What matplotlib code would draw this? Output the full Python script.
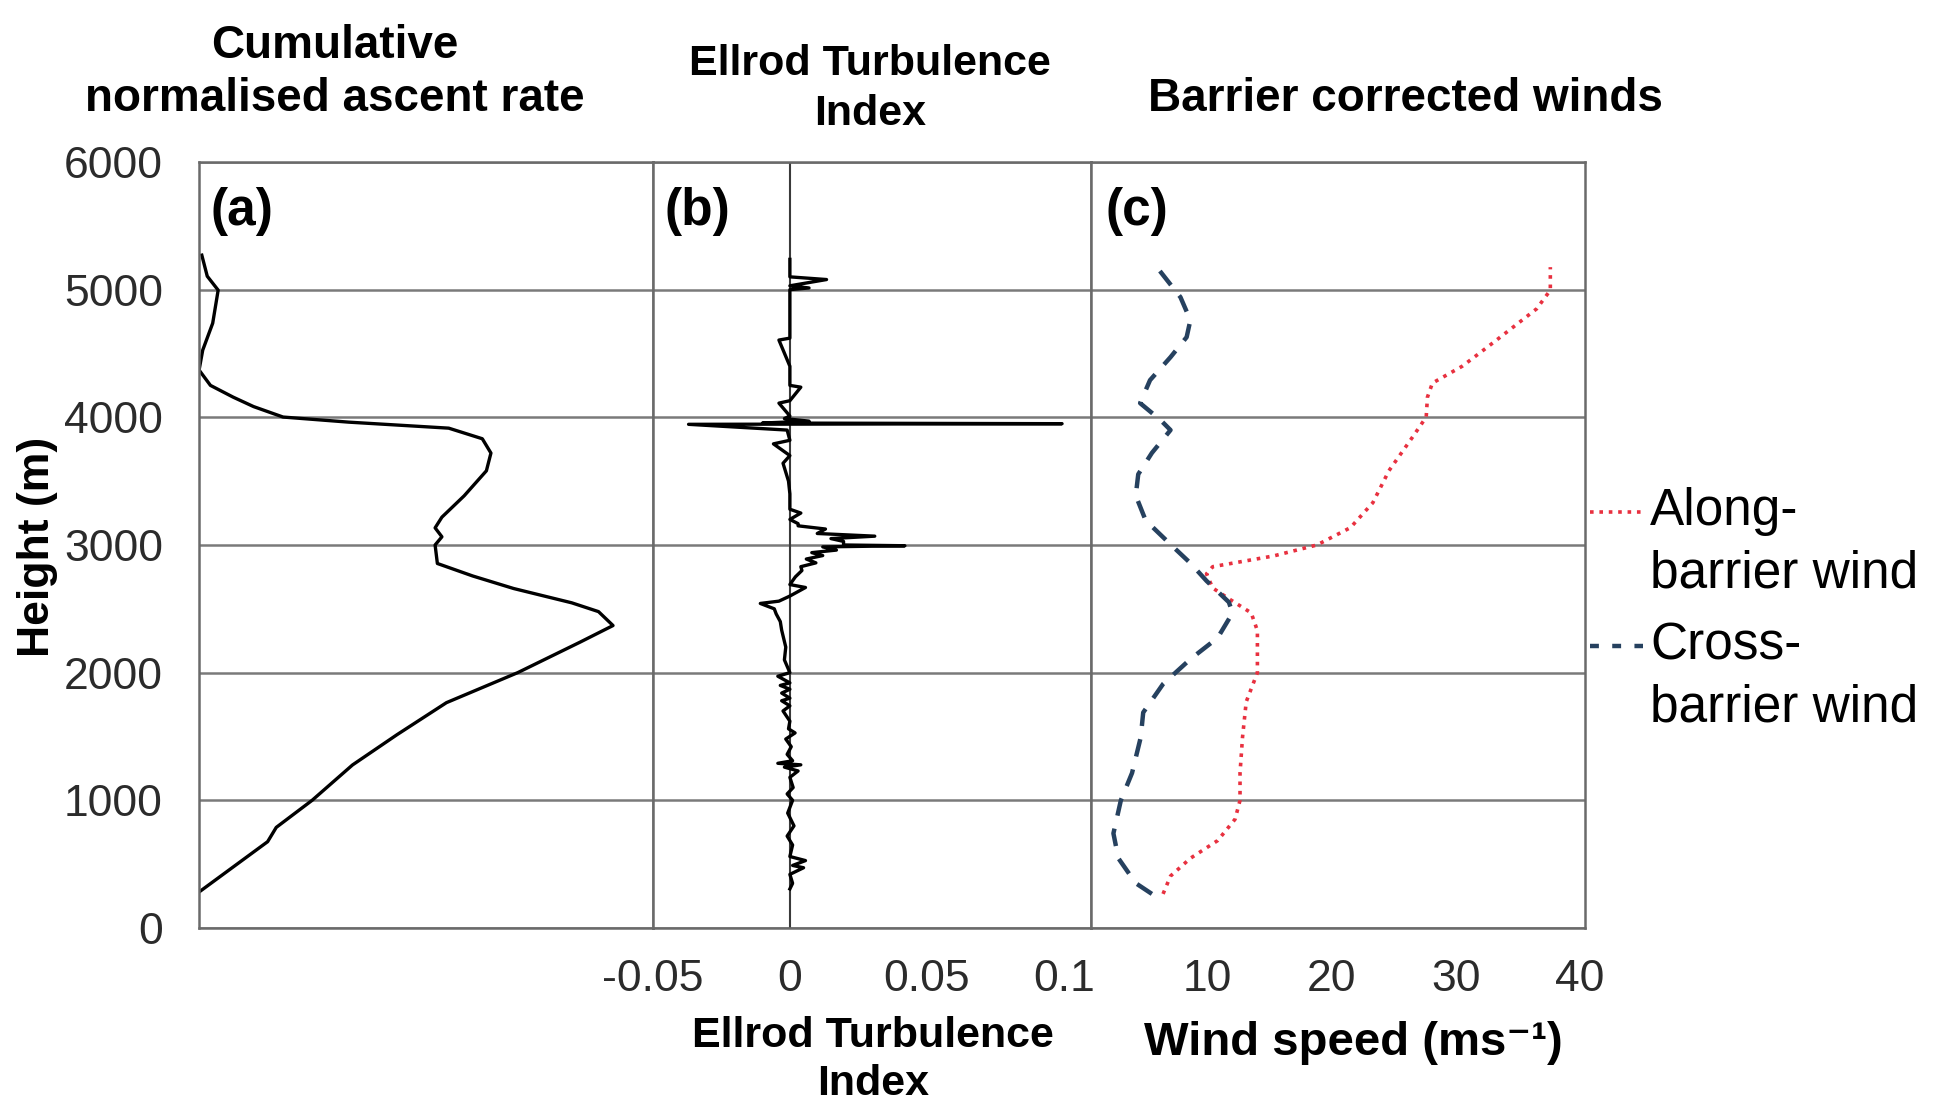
import matplotlib
matplotlib.use('Agg')
import matplotlib.pyplot as plt
from matplotlib.lines import Line2D

plt.rcParams['font.family'] = ['Liberation Sans', 'DejaVu Sans']

# (a) cumulative normalised ascent rate (fraction of panel width) vs height (m)
ascent_height = [282, 676, 788, 1000, 1277, 1514, 1765, 2000, 2240, 2369, 2478, 2547,
                 2659, 2757, 2855, 3000, 3064, 3134, 3218, 3385, 3581, 3720, 3832,
                 3915, 3962, 4002, 4084, 4158, 4250, 4370, 4526, 4737, 4996, 5105, 5270]
ascent_value = [0.0, 0.151, 0.170, 0.249, 0.338, 0.436, 0.545, 0.702, 0.840, 0.912, 0.880, 0.821,
                0.693, 0.603, 0.525, 0.520, 0.535, 0.520, 0.535, 0.584, 0.633, 0.643, 0.624,
                0.550, 0.330, 0.185, 0.120, 0.075, 0.025, 0.0, 0.008, 0.030, 0.042, 0.018, 0.006]

# (b) Ellrod turbulence index vs height (m)
ellrod_height = [306, 350, 420, 472, 490, 528, 560, 650, 720, 800, 900, 1000, 1050, 1100,
                 1180, 1230, 1260, 1278, 1290, 1310, 1360, 1420, 1480, 1528, 1560, 1620,
                 1700, 1740, 1780, 1800, 1840, 1870, 1900, 1920, 1972, 2000, 2100, 2200,
                 2333, 2400, 2460, 2500, 2542, 2560, 2600, 2667, 2690, 2750, 2800, 2830,
                 2860, 2890, 2917, 2940, 2960, 2985, 2994, 3000, 3028, 3050, 3069, 3090,
                 3125, 3150, 3167, 3200, 3250, 3280, 3400, 3500, 3640, 3700, 3792, 3820,
                 3900, 3945, 3950, 3955, 3970, 3990, 4010, 4111, 4130, 4236, 4250, 4400,
                 4605, 4620, 4800, 5000, 5013, 5030, 5079, 5100, 5237]
ellrod_value = [0.0, 0.001, 0.0, 0.005, 0.001, 0.0057, 0.0, 0.001, -0.001, 0.0015, -0.0008,
                0.001, -0.001, 0.0012, 0.0, 0.003, -0.002, 0.004, -0.0044, 0.001, -0.001,
                0.0005, -0.0015, 0.0019, -0.0005, 0.0, -0.0025, 0.0, -0.003, 0.0, -0.003,
                0.0, -0.0035, 0.0, -0.0044, 0.0, -0.002, -0.0015, -0.003, -0.0035, -0.005,
                -0.0057, -0.0108, -0.004, 0.0, 0.0057, 0.0, 0.002, 0.0044, 0.004, 0.0095,
                0.006, 0.012, 0.008, 0.017, 0.012, 0.042, 0.0196, 0.0196, 0.015, 0.031,
                0.01, 0.013, 0.003, 0.003, 0.0, 0.004, 0.0, 0.0, -0.0005, -0.0025, 0.0,
                -0.006, 0.0, -0.001, -0.037, 0.0994, -0.01, 0.007, -0.002, 0.0, -0.004,
                0.0, 0.004, 0.0, 0.0, -0.004, 0.0, 0.0, 0.0, 0.007, 0.0, 0.0134, 0.0, 0.0]

# (c) barrier corrected winds (m/s) vs height (m)
along_height = [267, 407, 546, 685, 852, 1000, 1214, 1493, 1772, 2000, 2329, 2468, 2579,
                2663, 2774, 2830, 2914, 3000, 3136, 3331, 3582, 3845, 4002, 4158, 4268,
                4400, 4503, 4600, 4706, 4850, 4996, 5176]
along_speed = [6.4, 7.0, 8.6, 10.8, 12.2, 12.6, 12.6, 12.8, 13.1, 14.0, 14.0, 13.5, 11.7,
               10.4, 9.9, 10.4, 15.3, 18.8, 21.5, 23.3, 24.6, 26.5, 27.6, 27.7, 28.1,
               30.5, 31.9, 33.2, 34.6, 36.5, 37.6, 37.6]
cross_height = [267, 351, 546, 741, 1000, 1214, 1493, 1688, 1911, 2106, 2273, 2468, 2552,
                2719, 2858, 3000, 3192, 3387, 3554, 3721, 3900, 3978, 4111, 4291, 4471,
                4628, 4761, 4941, 5176]
cross_speed = [5.5, 4.2, 2.8, 2.4, 3.0, 3.9, 4.6, 4.8, 6.4, 8.6, 10.8, 12.0, 11.7, 9.9,
               8.6, 7.05, 5.0, 4.2, 4.4, 5.5, 7.0, 6.2, 4.55, 5.35, 7.0, 8.3, 8.6, 7.8, 5.9]

height_ticks = [0, 1000, 2000, 3000, 4000, 5000, 6000]
ellrod_ticks = [-0.05, 0, 0.05, 0.1]
ellrod_tick_labels = ['-0.05', '0', '0.05', '0.1']
wind_ticks = [10, 20, 30, 40]

fig = plt.figure(figsize=(19.48, 11.07), dpi=100)
fig.set_facecolor('white')

bottom, height = 0.1617, 0.692
ax_a = fig.add_axes([0.1022, bottom, 0.3352 - 0.1022, height])
ax_b = fig.add_axes([0.3352, bottom, 0.5601 - 0.3352, height])
ax_c = fig.add_axes([0.5601, bottom, 0.8137 - 0.5601, height])

grid_col = '#7a7a7a'
tick_col = '#2b2b2b'

for ax in (ax_a, ax_b, ax_c):
    ax.set_ylim(0, 6000)
    ax.set_yticks(height_ticks)
    ax.grid(axis='y', color=grid_col, lw=1.8)
    ax.grid(axis='x', visible=False)
    ax.set_axisbelow(True)
    for sp in ax.spines.values():
        sp.set_color('#6a6a6a')
        sp.set_linewidth(1.8)
    ax.tick_params(length=0, labelsize=32, labelcolor=tick_col)

# (a)
ax_a.plot(ascent_value, ascent_height, color='black', lw=2.4)
ax_a.set_xlim(0, 1)
ax_a.set_xticks([])
ax_a.tick_params(axis='y', pad=26)
ax_a.text(0.025, 0.935, '(a)', transform=ax_a.transAxes, fontsize=37,
          fontweight='bold', va='center', ha='left')

# (b)
ax_b.axvline(0, color='#3a3a3a', lw=1.5, zorder=1)
ax_b.plot(ellrod_value, ellrod_height, color='black', lw=2.4)
ax_b.set_xlim(-0.05, 0.11)
ax_b.set_xticks(ellrod_ticks)
ax_b.set_xticklabels(ellrod_tick_labels)
ax_b.tick_params(axis='y', labelleft=False)
ax_b.tick_params(axis='x', pad=22)
ax_b.text(0.027, 0.935, '(b)', transform=ax_b.transAxes, fontsize=37,
          fontweight='bold', va='center', ha='left')

# (c)
ax_c.plot(along_speed, along_height, color='#e8303f', lw=2.6, ls=(0, (1, 1.6)))
ax_c.plot(cross_speed, cross_height, color='#26415f', lw=3.2, ls=(0, (4, 3)))
ax_c.set_xlim(0.6, 40.4)
ax_c.set_xticks(wind_ticks)
ax_c.tick_params(axis='y', labelleft=False)
ax_c.tick_params(axis='x', pad=22)
ax_c.text(0.03, 0.935, '(c)', transform=ax_c.transAxes, fontsize=37,
          fontweight='bold', va='center', ha='left')

# titles and axis labels
fig.text(0.172, 0.9345, 'Cumulative\nnormalised ascent rate', ha='center', va='center',
         fontsize=33, fontweight='bold', linespacing=1.25)
fig.text(0.4465, 0.9196, 'Ellrod Turbulence\nIndex', ha='center', va='center',
         fontsize=31, fontweight='bold', linespacing=1.33)
fig.text(0.7213, 0.9105, 'Barrier corrected winds', ha='center', va='center',
         fontsize=33, fontweight='bold')
fig.text(0.448, 0.0425, 'Ellrod Turbulence\nIndex', ha='center', va='center',
         fontsize=31, fontweight='bold', linespacing=1.25)
fig.text(0.695, 0.0574, 'Wind speed (ms\u207b\u00b9)', ha='center', va='center',
         fontsize=34, fontweight='bold')
fig.text(0.019, 0.506, 'Height (m)', ha='center', va='center', rotation=90,
         fontsize=32, fontweight='bold')

# legend drawn beside panel (c)
fig.add_artist(Line2D([0.8162, 0.8434], [0.5375, 0.5375], transform=fig.transFigure,
                      color='#e8303f', lw=2.6, ls=(0, (1, 1.6))))
fig.add_artist(Line2D([0.8162, 0.8434], [0.4164, 0.4164], transform=fig.transFigure,
                      color='#26415f', lw=3.2, ls=(0, (2, 3))))
fig.text(0.847, 0.5375, 'Along-', ha='left', va='center', fontsize=37)
fig.text(0.847, 0.4815, 'barrier wind', ha='left', va='center', fontsize=37)
fig.text(0.847, 0.4164, 'Cross-', ha='left', va='center', fontsize=37)
fig.text(0.847, 0.3604, 'barrier wind', ha='left', va='center', fontsize=37)

fig.savefig('out.png', dpi=100, facecolor='white')
